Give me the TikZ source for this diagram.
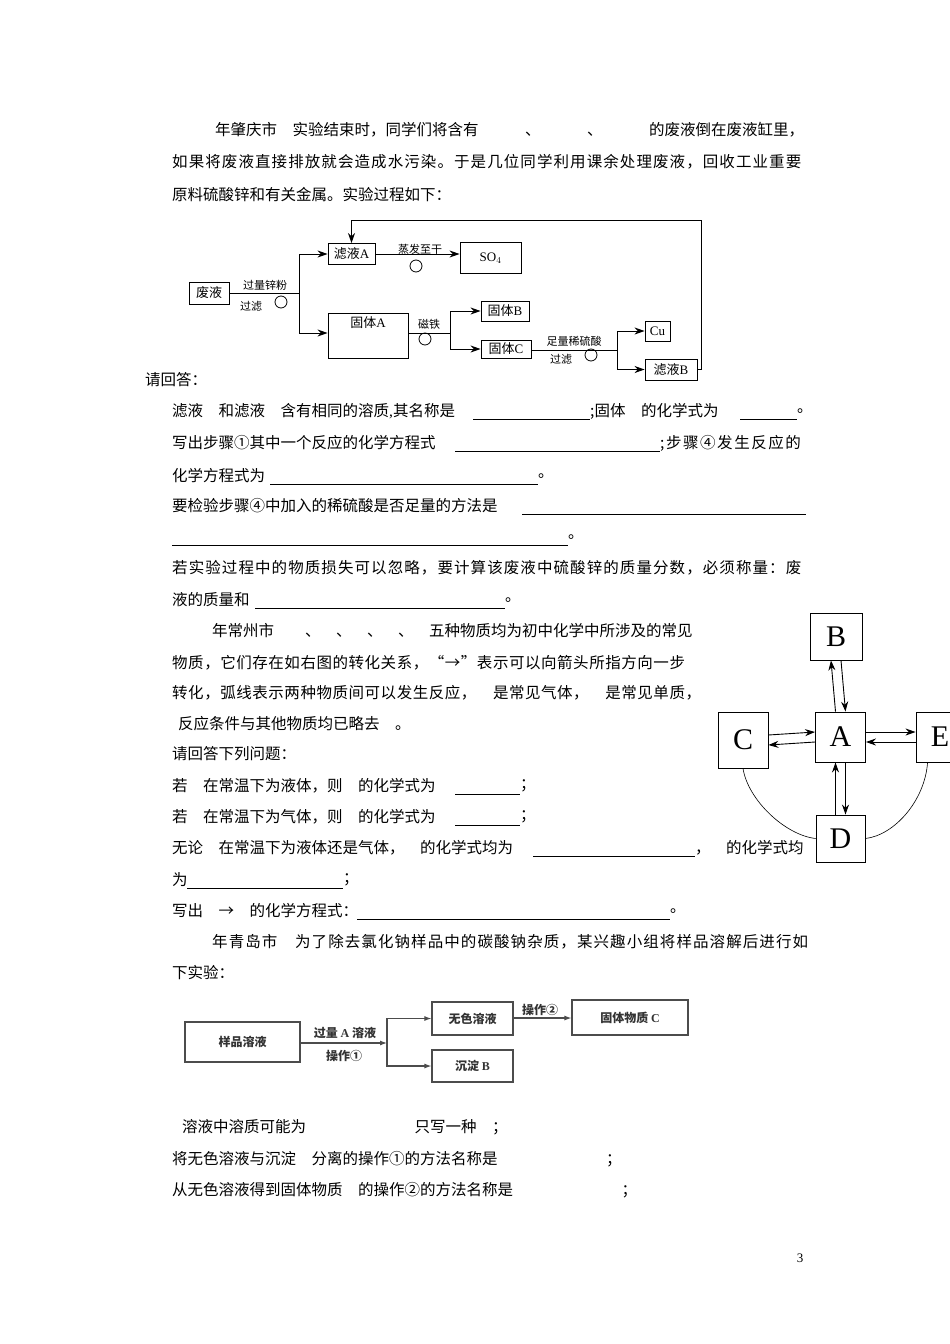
\documentclass[tikz,border=0pt]{standalone}
\usepackage{fontspec}
\usetikzlibrary{arrows.meta}
\setmainfont{Noto Sans CJK SC}
\newfontfamily\lsA[LetterSpace=10]{Noto Sans CJK SC}
\newfontfamily\lsB[LetterSpace=7]{Noto Sans CJK SC}
\newfontfamily\lsC[LetterSpace=3.5]{Noto Sans CJK SC}
\newfontfamily\tm{Liberation Serif}
\begin{document}
\begin{tikzpicture}[x=1pt,y=-1pt,
 txt/.style={anchor=west,inner sep=0pt,font=\fontsize{15.5}{16}\selectfont},
 sm/.style={inner sep=0pt,font=\fontsize{11}{12}\selectfont},
 bx/.style={draw,line width=0.9pt,inner sep=0pt},
 ar/.style={-{Stealth[length=10pt,width=7pt]},line width=0.9pt},
 big/.style={draw,line width=0.9pt,inner sep=0pt,font=\tm\fontsize{30}{30}\selectfont},
 ul/.style={line width=0.7pt},
 ar3/.style={-{Latex[length=7pt,width=5pt]},line width=1.1pt,gray!60!black},
 bx3/.style={draw,line width=1.2pt,gray!60!black,inner sep=0pt,font=\bfseries\fontsize{12}{12}\selectfont,text=gray!40!black}]
\useasboundingbox (0,0) rectangle (950,1344);
\clip (0,0) rectangle (950,1344);
% ---- paragraph 1
\node[txt] (t1) at (215,130) {年肇庆市　实验结束时，同学们将含有　　　、　　　、　　　的废液倒在废液缸里，};
\node[txt] (t2) at (172,162) {\lsB 如果将废液直接排放就会造成水污染。于是几位同学利用课余处理废液，回收工业重要};
\node[txt] (t3) at (172,195) {原料硫酸锌和有关金属。实验过程如下：};
% ---- diagram 1
\node[bx,minimum width=40pt,minimum height=22pt,font=\fontsize{13}{13}\selectfont] (fy) at (209,293) {废液};
\node[bx,minimum width=47pt,minimum height=21pt,font=\fontsize{13}{13}\selectfont] (lA) at (351.5,254) {滤液{\tm A}};
\node[bx,minimum width=61pt,minimum height=31pt,font=\tm\fontsize{13}{13}\selectfont] (so) at (490.5,258) {SO$_4$};
\node[bx,minimum width=80pt,minimum height=45pt] (gA) at (368,335.5) {};
\node[font=\fontsize{13}{13}\selectfont,inner sep=0pt] (gAt) at (368,323) {固体{\tm A}};
\node[bx,minimum width=48pt,minimum height=20pt,font=\fontsize{13}{13}\selectfont] (gB) at (505,311) {固体{\tm B}};
\node[bx,minimum width=50pt,minimum height=18pt,font=\fontsize{13}{13}\selectfont] (gC) at (506,349) {固体{\tm C}};
\node[bx,minimum width=25pt,minimum height=20pt,font=\tm\fontsize{13}{13}\selectfont] (cu) at (657.5,331) {Cu};
\node[bx,minimum width=52pt,minimum height=21pt,font=\fontsize{13}{13}\selectfont] (lB) at (671,369.5) {滤液{\tm B}};
\coordinate (f1) at (299,293);
\draw[line width=0.9pt] (fy.east) -- (f1);
\draw[ar] (f1) |- (lA.west);
\draw[ar] (f1) |- (gA.west |- 0,333);
\draw[ar] (lA.east) -- (so.west |- lA.east);
\coordinate (f2) at (450,333);
\draw[line width=0.9pt] (gA.east |- f2) -- (f2);
\draw[ar] (f2) |- (gB.west);
\draw[ar] (f2) |- (gC.west);
\coordinate (f3) at (617,350);
\draw[line width=0.9pt] (gC.east |- f3) -- (f3);
\draw[ar] (f3) |- (cu.west);
\draw[ar] (f3) |- (lB.west);
\coordinate (k1) at (701,220);
\draw[ar] (lB.east) -| (k1) -| (lA.north);
\node[sm] (l1) at (265,285) {过量锌粉};
\node[sm] (l2) at (251,306) {过滤};
\node[sm] (l3) at (420,249) {蒸发至干};
\node[sm] (l4) at (429,324) {磁铁};
\node[sm] (l5) at (574,341) {足量稀硫酸};
\node[sm] (l6) at (561,359) {过滤};
\draw[line width=0.8pt] (281,302) circle (6);
\draw[line width=0.8pt] (416,266) circle (6);
\draw[line width=0.8pt] (425,339) circle (6);
\draw[line width=0.8pt] (591,355) circle (6);
% ---- questions 1
\node[txt] (q0) at (145,380) {请回答：};
\node[txt] (q1) at (172,411) {滤液　和滤液　含有相同的溶质{\tm ,}其名称是};
\draw[ul] (473,419) -- (590,419);
\node[txt] (q1b) at (590,411) {;固体　的化学式为};
\draw[ul] (740,419) -- (797,419);
\node[txt] (q1c) at (797,411) {。};
\node[txt] (q2) at (172,443) {写出步骤①其中一个反应的化学方程式};
\draw[ul] (455,451) -- (660,451);
\node[txt] (q2b) at (660,443) {\lsA ;步骤④发生反应的};
\node[txt] (q3) at (172,476) {化学方程式为};
\draw[ul] (270,484) -- (538,484);
\node[txt] (q3b) at (538,476) {。};
\node[txt] (q4) at (172,506) {要检验步骤④中加入的稀硫酸是否足量的方法是};
\draw[ul] (522,514) -- (806,514);
\draw[ul] (172,545) -- (568,545);
\node[txt] (q5) at (568,537) {。};
\node[txt] (q6) at (172,568) {\lsB 若实验过程中的物质损失可以忽略，要计算该废液中硫酸锌的质量分数，必须称量：废};
\node[txt] (q7) at (172,600) {液的质量和};
\draw[ul] (255,608) -- (505,608);
\node[txt] (q7b) at (505,600) {。};
% ---- paragraph 2
\node[txt] (p1) at (212,631) {年常州市　　、　、　、　、　五种物质均为初中化学中所涉及的常见};
\node[txt] (p2) at (172,663) {\lsC 物质，它们存在如右图的转化关系，“→”表示可以向箭头所指方向一步};
\node[txt] (p3) at (172,693) {\lsC 转化，弧线表示两种物质间可以发生反应，　是常见气体，　是常见单质，};
\node[txt] (p4) at (178,724) {反应条件与其他物质均已略去　。};
\node[txt] (p5) at (172,754) {请回答下列问题：};
\node[txt] (p6) at (172,786) {若　在常温下为液体，则　的化学式为};
\draw[ul] (455,794) -- (520,794);
\node[txt] (p6b) at (520,786) {；};
\node[txt] (p7) at (172,817) {若　在常温下为气体，则　的化学式为};
\draw[ul] (455,825) -- (520,825);
\node[txt] (p7b) at (520,817) {；};
\node[txt] (p8) at (172,848) {无论　在常温下为液体还是气体，　的化学式均为};
\draw[ul] (533,856) -- (695,856);
\node[txt] (p8b) at (695,848) {，　的化学式均};
\node[txt] (p9) at (172,880) {为};
\draw[ul] (187,888) -- (343,888);
\node[txt] (p9b) at (343,880) {；};
\node[txt] (p10) at (172,911) {写出　→　的化学方程式：};
\draw[ul] (357,919) -- (670,919);
\node[txt] (p10b) at (670,911) {。};
% ---- diagram 2
\node[big,minimum width=52pt,minimum height=47pt] (B) at (836,636.5) {B};
\node[big,minimum width=50pt,minimum height=50pt] (A) at (840.5,737) {A};
\node[big,minimum width=50pt,minimum height=56pt] (C) at (743,740) {C};
\node[big,minimum width=48pt,minimum height=50pt] (E) at (940,737) {E};
\node[big,minimum width=49pt,minimum height=47pt] (D) at (840.5,838.5) {D};
\draw[ar] ([xshift=-5pt]A.north) -- ([xshift=-5pt]B.south);
\draw[ar] ([xshift=5pt]B.south) -- ([xshift=5pt]A.north);
\draw[ar] ([xshift=-5pt]D.north) -- ([xshift=-5pt]A.south);
\draw[ar] ([xshift=5pt]A.south) -- ([xshift=5pt]D.north);
\draw[ar] ([yshift=-5pt]A.west) -- ([yshift=-5pt]C.east);
\draw[ar] ([yshift=5pt]C.east) -- ([yshift=5pt]A.west);
\draw[ar] ([yshift=-5pt]E.west) -- ([yshift=-5pt]A.east);
\draw[ar] ([yshift=5pt]A.east) -- ([yshift=5pt]E.west);
\draw[line width=0.6pt] (C.south) .. controls (748,800) and (785,835) .. (D.west);
\draw[line width=0.6pt] (E.south west) ++(12,0) .. controls (925,800) and (895,835) .. (D.east);
% ---- paragraph 3
\node[txt] (r1) at (212,942) {\lsB 年青岛市　为了除去氯化钠样品中的碳酸钠杂质，某兴趣小组将样品溶解后进行如};
\node[txt] (r2) at (172,973) {下实验：};
\node[bx3,minimum width=115pt,minimum height=40pt] (yp) at (242.5,1042) {样品溶液};
\node[bx3,minimum width=81pt,minimum height=33pt] (ws) at (472.5,1018.5) {无色溶液};
\node[bx3,minimum width=81pt,minimum height=32pt] (cd) at (472.5,1066) {沉淀 {\tm B}};
\node[bx3,minimum width=116pt,minimum height=35pt] (gt) at (630,1017.5) {固体物质 {\tm C}};
\coordinate (f4) at (387,1043);
\draw[ar3] (300,1043) -- (f4);
\draw[ar3] (f4) |- (ws.west);
\draw[ar3] (f4) |- (cd.west);
\draw[ar3] (ws.east |- 0,1018) -- (gt.west |- 0,1018);
\node[sm,font=\bfseries\fontsize{12}{12}\selectfont,text=gray!40!black] (m1) at (345,1033) {过量 {\tm A} 溶液};
\node[sm,font=\bfseries\fontsize{12}{12}\selectfont,text=gray!40!black] (m2) at (344,1056) {操作①};
\node[sm,font=\bfseries\fontsize{12}{12}\selectfont,text=gray!40!black] (m3) at (540,1010) {操作②};
\node[txt] (s1) at (182,1127) {溶液中溶质可能为　　　　　　　只写一种　；};
\node[txt] (s2) at (172,1159) {将无色溶液与沉淀　分离的操作①的方法名称是　　　　　　　；};
\node[txt] (s3) at (172,1190) {从无色溶液得到固体物质　的操作②的方法名称是　　　　　　　；};
\node[inner sep=0pt,font=\tm\fontsize{13}{13}\selectfont] (pg) at (800,1258) {3};
\end{tikzpicture}
\end{document}
